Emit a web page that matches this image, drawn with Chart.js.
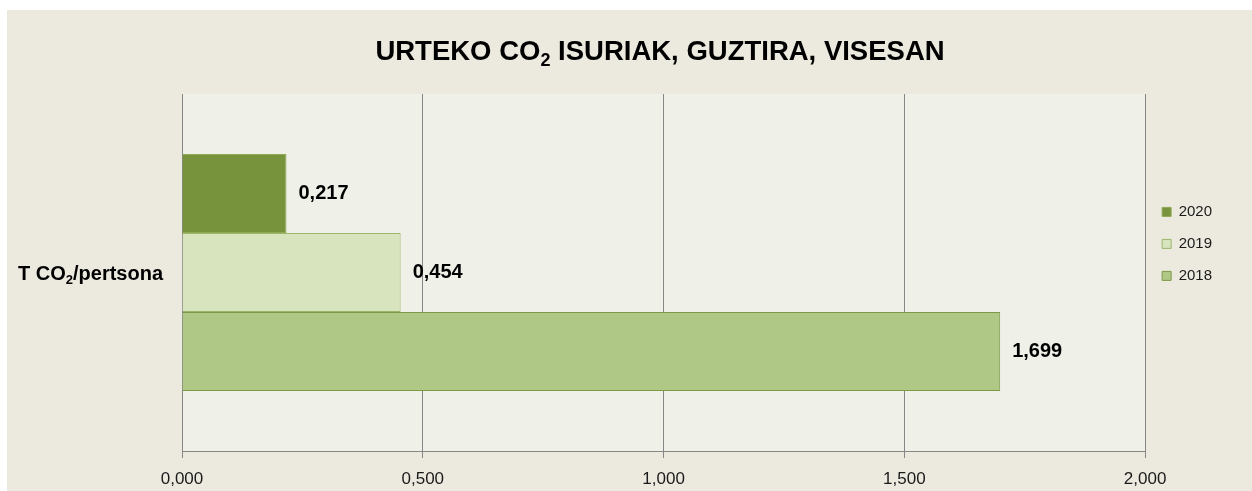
<!DOCTYPE html>
<html>
<head>
<meta charset="utf-8">
<script src="https://cdn.jsdelivr.net/npm/chart.js@4/dist/chart.umd.min.js"></script>
<style>
  html, body { margin: 0; padding: 0; background: #ffffff; }
  #wrap { position: absolute; left: 7px; top: 10px; width: 1245px; height: 481px; background: #ECE9DF; }
  canvas { display: block; }
</style>
</head>
<body>
<div id="wrap"><canvas id="c" width="1245" height="481"></canvas></div>
<script>
const categories = ['T CO2/pertsona'];
const seriesNames = ['2020', '2019', '2018'];
const values2020 = [0.217];
const values2019 = [0.454];
const values2018 = [1.699];
const xTicks = [0, 0.5, 1.0, 1.5, 2.0];
const titleText = 'URTEKO CO2 ISURIAK, GUZTIRA, VISESAN';

const FONT = '"Liberation Sans", Arial, sans-serif';
const fmt = v => Number(v).toFixed(3).replace('.', ',');

// draw text where "CO2" gets a subscript 2
function drawSubText(ctx, text, x, y, size, align) {
  const segs = [];
  const idx = text.indexOf('CO2');
  if (idx >= 0) {
    segs.push({ t: text.slice(0, idx + 2), sub: false });
    segs.push({ t: '2', sub: true });
    segs.push({ t: text.slice(idx + 3), sub: false });
  } else {
    segs.push({ t: text, sub: false });
  }
  const mainFont = 'bold ' + size + 'px ' + FONT;
  const subSize = Math.round(size * 0.66);
  const subFont = 'bold ' + subSize + 'px ' + FONT;
  let total = 0;
  segs.forEach(s => { ctx.font = s.sub ? subFont : mainFont; s.w = ctx.measureText(s.t).width; total += s.w; });
  let cx = align === 'center' ? x - total / 2 : (align === 'right' ? x - total : x);
  ctx.textAlign = 'left';
  ctx.textBaseline = 'alphabetic';
  segs.forEach(s => {
    ctx.font = s.sub ? subFont : mainFont;
    ctx.fillText(s.t, cx, s.sub ? y + size * 0.22 : y);
    cx += s.w;
  });
}

const plotBg = {
  id: 'plotBg',
  beforeDraw(chart) {
    const a = chart.chartArea, ctx = chart.ctx;
    ctx.save();
    ctx.fillStyle = '#EFF0E8';
    ctx.fillRect(a.left, a.top, a.right - a.left, a.bottom - a.top);
    ctx.restore();
  }
};

const textPlugin = {
  id: 'textPlugin',
  afterDraw(chart) {
    const ctx = chart.ctx;
    ctx.save();
    ctx.fillStyle = '#000000';
    drawSubText(ctx, titleText, 653, 50, 27.5, 'center');
    const y = chart.scales.y;
    chart.data.labels.forEach((lab, i) => {
      const py = y.getPixelForTick(i);
      drawSubText(ctx, lab, y.right - 19, py + 7, 20, 'right');
    });
    ctx.restore();
  }
};

const dataLabels = {
  id: 'dataLabels',
  afterDatasetsDraw(chart) {
    const ctx = chart.ctx;
    ctx.save();
    ctx.font = 'bold 20px ' + FONT;
    ctx.fillStyle = '#000000';
    ctx.textAlign = 'left';
    ctx.textBaseline = 'middle';
    chart.data.datasets.forEach((ds, i) => {
      const meta = chart.getDatasetMeta(i);
      meta.data.forEach((el, j) => {
        ctx.fillText(fmt(ds.data[j]), el.x + 12, el.y);
      });
    });
    ctx.restore();
  }
};

new Chart(document.getElementById('c'), {
  type: 'bar',
  data: {
    labels: categories,
    datasets: [
      { label: seriesNames[0], data: values2020, backgroundColor: '#77933C', borderColor: '#8FA955', borderWidth: 1 },
      { label: seriesNames[1], data: values2019, backgroundColor: '#D7E4BD', borderColor: '#9BB66A', borderWidth: 1 },
      { label: seriesNames[2], data: values2018, backgroundColor: '#AFC886', borderColor: '#7E9A48', borderWidth: 1 }
    ]
  },
  options: {
    indexAxis: 'y',
    responsive: false,
    animation: false,
    devicePixelRatio: 1,
    layout: { padding: { left: 0, right: 30, top: 84, bottom: 0 } },
    datasets: { bar: { categoryPercentage: 0.664, barPercentage: 1.0 } },
    scales: {
      x: {
        min: 0, max: 2,
        afterBuildTicks(scale) { scale.ticks = xTicks.map(v => ({ value: v })); },
        afterFit(scale) { scale.height = 40; },
        grid: { color: '#868686', lineWidth: 1, drawTicks: true, tickLength: 7, tickColor: '#868686' },
        border: { display: true, color: '#868686' },
        ticks: {
          callback: v => fmt(v),
          color: '#1a1a1a',
          padding: 11,
          maxRotation: 0,
          font: { family: FONT, size: 17 }
        }
      },
      y: {
        afterFit(scale) { scale.width = 175; },
        grid: { display: false, drawTicks: false },
        border: { display: true, color: '#868686' },
        ticks: { display: false }
      }
    },
    plugins: {
      title: { display: false },
      legend: {
        position: 'right',
        align: 'start',
        title: { display: true, text: ' ', font: { family: FONT, size: 12, lineHeight: 1.2 }, padding: { top: 79, bottom: 0 } },
        labels: {
          boxWidth: 9, boxHeight: 9,
          padding: 17,
          color: '#1a1a1a',
          font: { family: FONT, size: 15 }
        }
      },
      tooltip: { enabled: false }
    }
  },
  plugins: [plotBg, dataLabels, textPlugin]
});
</script>
</body>
</html>
